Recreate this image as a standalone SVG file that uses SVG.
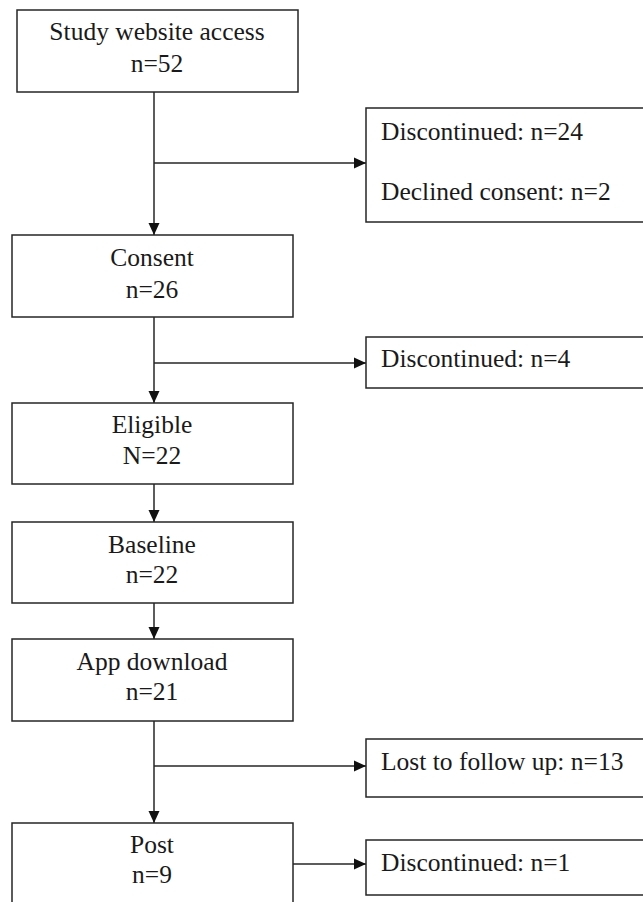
<svg xmlns="http://www.w3.org/2000/svg" width="643" height="902" viewBox="0 0 643 902">
<style>
.box{fill:#fff;stroke:#262626;stroke-width:1.5}
text{font-family:'Liberation Serif','Times New Roman','DejaVu Serif',serif;font-size:25.5px;fill:#1a1a1a}
.c{text-anchor:middle}
.ln{fill:none;stroke:#262626;stroke-width:1.5}
</style>
<defs>
<marker id="ah" markerUnits="userSpaceOnUse" markerWidth="12" markerHeight="12" refX="12" refY="6" orient="auto">
<path d="M0,0.5 L12,6 L0,11.5 z" fill="#111"/>
</marker>
</defs>
<rect width="643" height="902" fill="#fff"/>
<g id="connectors">
<line class="ln" x1="154" y1="92" x2="154" y2="235" marker-end="url(#ah)"/>
<line class="ln" x1="154" y1="163" x2="366" y2="163" marker-end="url(#ah)"/>
<line class="ln" x1="154" y1="317" x2="154" y2="403" marker-end="url(#ah)"/>
<line class="ln" x1="154" y1="363" x2="366" y2="363" marker-end="url(#ah)"/>
<line class="ln" x1="154" y1="484" x2="154" y2="522" marker-end="url(#ah)"/>
<line class="ln" x1="154" y1="603" x2="154" y2="639" marker-end="url(#ah)"/>
<line class="ln" x1="154" y1="721" x2="154" y2="823" marker-end="url(#ah)"/>
<line class="ln" x1="154" y1="766" x2="366" y2="766" marker-end="url(#ah)"/>
<line class="ln" x1="293" y1="864" x2="366" y2="864" marker-end="url(#ah)"/>
</g>
<g id="n-access">
<rect class="box" x="17" y="10" width="281" height="82"/>
<text class="c" x="157" y="40" font-family="Liberation Serif, serif">Study website access</text>
<text class="c" x="157" y="72" font-family="Liberation Serif, serif">n=52</text>
</g>
<g id="n-excl1">
<rect class="box" x="366" y="108" width="290" height="114"/>
<text x="381" y="140" font-family="Liberation Serif, serif">Discontinued: n=24</text>
<text x="381" y="200" font-family="Liberation Serif, serif">Declined consent: n=2</text>
</g>
<g id="n-consent">
<rect class="box" x="12" y="235" width="281" height="82"/>
<text class="c" x="152" y="266" font-family="Liberation Serif, serif">Consent</text>
<text class="c" x="152" y="298" font-family="Liberation Serif, serif">n=26</text>
</g>
<g id="n-excl2">
<rect class="box" x="366" y="337" width="290" height="51"/>
<text x="381" y="367" font-family="Liberation Serif, serif">Discontinued: n=4</text>
</g>
<g id="n-eligible">
<rect class="box" x="12" y="403" width="281" height="81"/>
<text class="c" x="152" y="433" font-family="Liberation Serif, serif">Eligible</text>
<text class="c" x="152" y="464" font-family="Liberation Serif, serif">N=22</text>
</g>
<g id="n-baseline">
<rect class="box" x="12" y="522" width="281" height="81"/>
<text class="c" x="152" y="553" font-family="Liberation Serif, serif">Baseline</text>
<text class="c" x="152" y="583" font-family="Liberation Serif, serif">n=22</text>
</g>
<g id="n-app">
<rect class="box" x="12" y="639" width="281" height="82"/>
<text class="c" x="152" y="670" font-family="Liberation Serif, serif">App download</text>
<text class="c" x="152" y="700" font-family="Liberation Serif, serif">n=21</text>
</g>
<g id="n-lost">
<rect class="box" x="366" y="739" width="290" height="58"/>
<text x="381" y="770" font-family="Liberation Serif, serif">Lost to follow up: n=13</text>
</g>
<g id="n-post">
<rect class="box" x="12" y="823" width="281" height="100"/>
<text class="c" x="152" y="853" font-family="Liberation Serif, serif">Post</text>
<text class="c" x="152" y="883" font-family="Liberation Serif, serif">n=9</text>
</g>
<g id="n-excl3">
<rect class="box" x="366" y="840" width="290" height="55"/>
<text x="381" y="871" font-family="Liberation Serif, serif">Discontinued: n=1</text>
</g>
</svg>
